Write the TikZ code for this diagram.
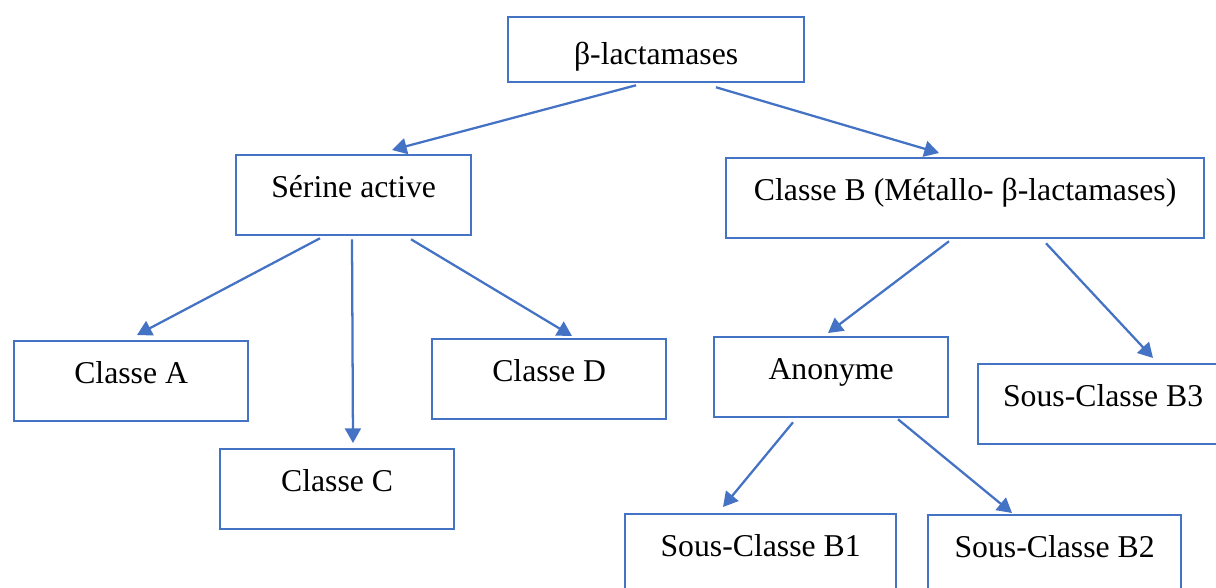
\documentclass[tikz,border=0pt]{standalone}
\usepackage{fontspec}
\setmainfont{Liberation Serif}
\usetikzlibrary{arrows.meta,calc}
\definecolor{boxblue}{HTML}{4472C4}
\begin{document}
\begin{tikzpicture}[x=0.75pt,y=-0.75pt,
  box/.style={draw=boxblue, line width=1.7pt, rectangle, inner sep=0pt,
    anchor=north west, text height=31.5pt, text depth=28.5pt,
    font=\fontsize{23.8}{28}\selectfont},
  arr/.style={draw=boxblue, line width=1.7pt, -{Triangle[length=11pt,width=12pt]}}]
\useasboundingbox (0,0) rectangle (1216,587);
\clip (0,0) rectangle (1216,587);
% boxes
\node[box, minimum width=222pt, text height=35.25pt, text depth=13.5pt] (beta) at (507,16) {β-lactamases};
\node[box, minimum width=176.25pt] (ser) at (235,154) {Sérine active};
\node[box, minimum width=358.5pt] (clb) at (725,157) {Classe B (Métallo- β-lactamases)};
\node[box, minimum width=175.5pt] (cla) at (13,340) {Classe A};
\node[box, minimum width=175.5pt] (clc) at (219,448) {Classe C};
\node[box, minimum width=175.5pt] (cld) at (431,338) {Classe D};
\node[box, minimum width=175.5pt] (ano) at (713,336) {Anonyme};
\node[box, minimum width=187.5pt] (b3) at (977,363) {Sous-Classe B3};
\node[box, minimum width=203.25pt] (b1) at (624,513) {Sous-Classe B1};
\node[box, minimum width=189.75pt] (b2) at (927,514) {Sous-Classe B2};
% arrows
\draw[arr] ([shift={(129,2)}]beta.south west) -- ([shift={(157,-4)}]ser.north west);
\draw[arr] ([shift={(209,4)}]beta.south west) -- ([shift={(214,-4)}]clb.north west);
\draw[arr] ([shift={(85,2)}]ser.south west) -- ([shift={(124,-5)}]cla.north west);
\draw[arr] ([shift={(117,3)}]ser.south west) -- ([shift={(134,-5)}]clc.north west);
\draw[arr] ([shift={(176,3)}]ser.south west) -- ([shift={(141,-2)}]cld.north west);
\draw[arr] ([shift={(224,2)}]clb.south west) -- ([shift={(115,-3)}]ano.north west);
\draw[arr] ([shift={(321,4)}]clb.south west) -- ([shift={(176,-5)}]b3.north west);
\draw[arr] ([shift={(80,4)}]ano.south west) -- ([shift={(99,-6)}]b1.north west);
\draw[arr] ([shift={(185,1)}]ano.south west) -- ([shift={(85,-1)}]b2.north west);
\end{tikzpicture}
\end{document}
